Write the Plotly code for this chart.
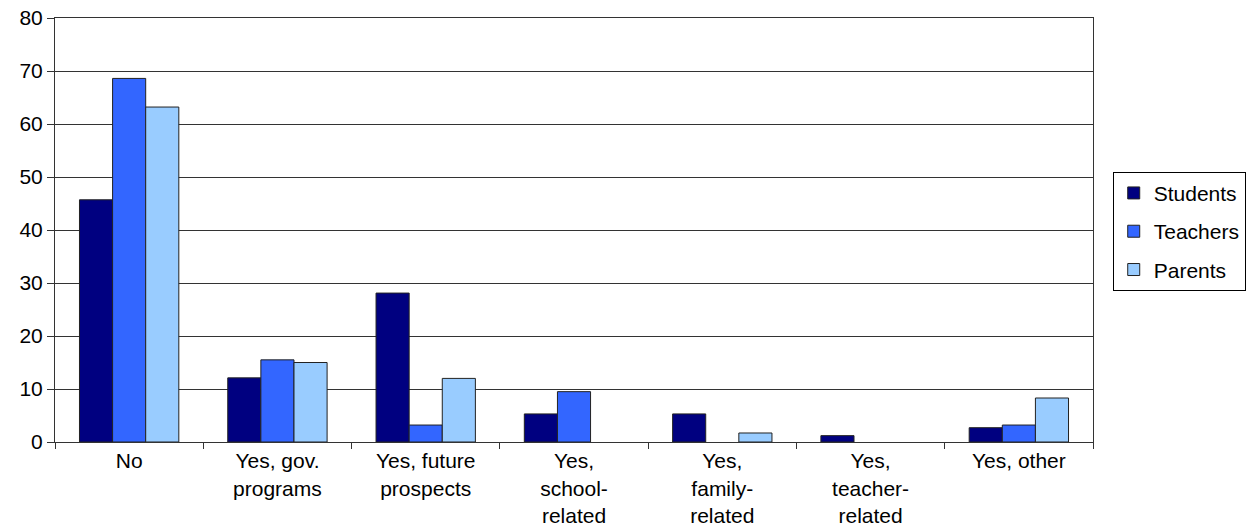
import plotly.graph_objects as go

categories = [
    "No",
    "Yes, gov.<br>programs",
    "Yes, future<br>prospects",
    "Yes,<br>school-<br>related",
    "Yes,<br>family-<br>related",
    "Yes,<br>teacher-<br>related",
    "Yes, other",
]

# None = no bar for that group
students = [45.7, 12.1, 28.1, 5.3, 5.3, 1.2, 2.7]
teachers = [68.6, 15.5, 3.2, 9.5, None, None, 3.2]
parents = [63.2, 15.0, 12.0, None, 1.7, None, 8.3]

series = [
    ("Students", students, "#000080"),
    ("Teachers", teachers, "#3366FF"),
    ("Parents", parents, "#99CCFF"),
]

font_family = "Liberation Sans, Arial, sans-serif"

fig = go.Figure()
for name, values, color in series:
    fig.add_trace(go.Bar(
        name=name,
        x=categories,
        y=values,
        marker=dict(color=color, line=dict(color="#222222", width=1)),
        legendgroup=name,
    ))

fig.update_layout(
    width=1248,
    height=529,
    margin=dict(l=55, r=155, t=18, b=87, autoexpand=False),
    paper_bgcolor="white",
    plot_bgcolor="white",
    barmode="group",
    bargap=0.33,
    bargroupgap=0,
    font=dict(family=font_family, color="black", size=20),
    legend=dict(
        x=1.019,
        y=0.497,
        xanchor="left",
        yanchor="middle",
        bordercolor="black",
        borderwidth=1,
        font=dict(size=21),
        traceorder="grouped",
        tracegroupgap=8,
        itemwidth=30,
    ),
    xaxis=dict(
        automargin=False,
        tickson="boundaries",
        ticks="outside",
        ticklen=6,
        tickcolor="#333333",
        showline=True,
        linecolor="#333333",
        linewidth=1,
        mirror=True,
        tickfont=dict(size=21),
        showgrid=False,
    ),
    yaxis=dict(
        automargin=False,
        range=[0, 80],
        dtick=10,
        ticks="outside",
        ticklen=7,
        tickcolor="#333333",
        showline=True,
        linecolor="#333333",
        linewidth=1,
        mirror=True,
        showgrid=True,
        gridcolor="#333333",
        gridwidth=1,
        zeroline=False,
        tickfont=dict(size=21),
    ),
)

fig.write_html("out.html")
